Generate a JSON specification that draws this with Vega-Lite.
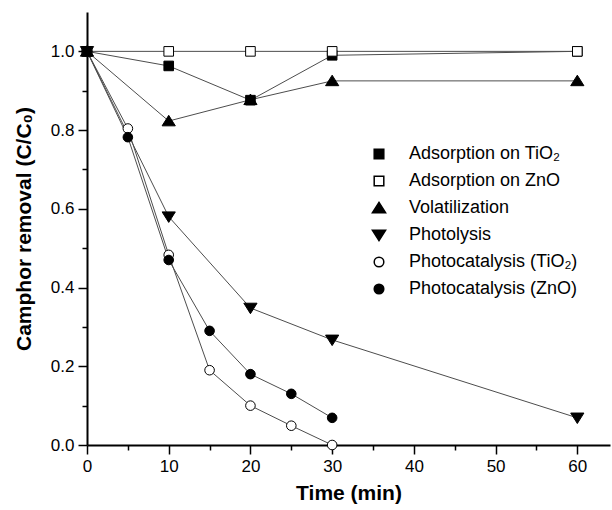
{
  "$schema": "https://vega.github.io/schema/vega-lite/v6.json",
  "width": 523,
  "height": 433,
  "autosize": {"type": "none"},
  "padding": {"left": 87, "top": 12, "right": 2, "bottom": 65},
  "background": "white",
  "config": {"view": {"stroke": null}, "font": "Liberation Sans"},
  "data": {
    "values": [
      {"t": 10, "c": 0.963, "s": "Adsorption on TiO₂"},
      {"t": 20, "c": 0.876, "s": "Adsorption on TiO₂"},
      {"t": 30, "c": 0.99, "s": "Adsorption on TiO₂"},
      {"t": 60, "c": 1.0, "s": "Adsorption on TiO₂"},
      {"t": 10, "c": 1.0, "s": "Adsorption on ZnO"},
      {"t": 20, "c": 1.0, "s": "Adsorption on ZnO"},
      {"t": 30, "c": 1.0, "s": "Adsorption on ZnO"},
      {"t": 60, "c": 1.0, "s": "Adsorption on ZnO"},
      {"t": 10, "c": 0.823, "s": "Volatilization"},
      {"t": 20, "c": 0.877, "s": "Volatilization"},
      {"t": 30, "c": 0.925, "s": "Volatilization"},
      {"t": 60, "c": 0.925, "s": "Volatilization"},
      {"t": 10, "c": 0.58, "s": "Photolysis"},
      {"t": 20, "c": 0.348, "s": "Photolysis"},
      {"t": 30, "c": 0.267, "s": "Photolysis"},
      {"t": 60, "c": 0.069, "s": "Photolysis"},
      {"t": 5, "c": 0.804, "s": "Photocatalysis (TiO₂)"},
      {"t": 10, "c": 0.483, "s": "Photocatalysis (TiO₂)"},
      {"t": 15, "c": 0.19, "s": "Photocatalysis (TiO₂)"},
      {"t": 20, "c": 0.1, "s": "Photocatalysis (TiO₂)"},
      {"t": 25, "c": 0.049, "s": "Photocatalysis (TiO₂)"},
      {"t": 30, "c": 0.0, "s": "Photocatalysis (TiO₂)"},
      {"t": 5, "c": 0.782, "s": "Photocatalysis (ZnO)"},
      {"t": 10, "c": 0.47, "s": "Photocatalysis (ZnO)"},
      {"t": 15, "c": 0.29, "s": "Photocatalysis (ZnO)"},
      {"t": 20, "c": 0.18, "s": "Photocatalysis (ZnO)"},
      {"t": 25, "c": 0.13, "s": "Photocatalysis (ZnO)"},
      {"t": 30, "c": 0.069, "s": "Photocatalysis (ZnO)"},
      {"t": 0, "c": 1.0, "s": "Volatilization"},
      {"t": 0, "c": 1.0, "s": "Photolysis"},
      {"t": 0, "c": 1.0, "s": "Photocatalysis (TiO₂)"},
      {"t": 0, "c": 1.0, "s": "Photocatalysis (ZnO)"},
      {"t": 0, "c": 1.0, "s": "Adsorption on ZnO"},
      {"t": 0, "c": 1.0, "s": "Adsorption on TiO₂"}
    ]
  },
  "layer": [
    {
      "mark": {"type": "line", "color": "#4d4d4d", "strokeWidth": 1},
      "encoding": {
        "x": {
          "field": "t", "type": "quantitative",
          "scale": {"domain": [0, 64], "nice": false, "zero": false},
          "axis": {
            "values": [0, 10, 20, 30, 40, 50, 60],
            "title": "Time (min)", "titleFontSize": 21, "titleFontWeight": "bold",
            "titleColor": "black", "titlePadding": 8,
            "labelFontSize": 17, "labelColor": "black", "labelPadding": 4, "labelFlush": false,
            "tickSize": 9, "tickWidth": 1.5, "tickColor": "black",
            "domainWidth": 2, "domainColor": "black", "grid": false
          }
        },
        "y": {
          "field": "c", "type": "quantitative",
          "scale": {"domain": [0, 1.1], "nice": false, "zero": false},
          "axis": {
            "values": [0, 0.2, 0.4, 0.6, 0.8, 1.0], "format": ".1f",
            "title": "Camphor removal (C/C₀)", "titleFontSize": 21, "titleFontWeight": "bold",
            "titleColor": "black", "titlePadding": 16,
            "labelFontSize": 17, "labelColor": "black", "labelPadding": 4, "labelFlush": false,
            "tickSize": 9, "tickWidth": 1.5, "tickColor": "black",
            "domainWidth": 2, "domainColor": "black", "grid": false
          }
        },
        "detail": {"field": "s"}
      }
    },
    {
      "mark": {"type": "point", "stroke": "black", "strokeWidth": 1, "opacity": 1},
      "encoding": {
        "x": {
          "field": "t", "type": "quantitative",
          "axis": {"values": [5, 15, 25, 35, 45, 55], "orient": "bottom", "labels": false, "title": null, "domain": false,
                   "tickSize": 5, "tickWidth": 1.5, "tickColor": "black", "grid": false}
        },
        "y": {
          "field": "c", "type": "quantitative",
          "axis": {"values": [0.1, 0.3, 0.5, 0.7, 0.9], "orient": "left", "labels": false, "title": null, "domain": false,
                   "tickSize": 5, "tickWidth": 1.5, "tickColor": "black", "grid": false}
        },
        "shape": {
          "field": "s", "type": "nominal",
          "scale": {
            "domain": ["Adsorption on TiO₂", "Adsorption on ZnO", "Volatilization", "Photolysis", "Photocatalysis (TiO₂)", "Photocatalysis (ZnO)"],
            "range": [
              "M-0.8,-0.8H0.8V0.8H-0.8Z",
              "M-0.8,-0.8H0.8V0.8H-0.8Z",
              "M0,-0.95L1.1,0.8H-1.1Z",
              "M0,0.95L1.1,-0.8H-1.1Z",
              "M-0.8,0A0.8,0.8 0 1,0 0.8,0A0.8,0.8 0 1,0 -0.8,0Z",
              "M-0.8,0A0.8,0.8 0 1,0 0.8,0A0.8,0.8 0 1,0 -0.8,0Z"
            ]
          },
          "legend": {
            "title": null, "orient": "none", "legendX": 283, "legendY": 133,
            "symbolSize": 144, "labelFontSize": 18, "labelColor": "black", "labelOffset": 21,
            "labelLimit": 300, "rowPadding": 9, "padding": 0,
            "encode": {"symbols": {
              "shape": {"value": {"expr": "(indexof(datum.value, 'Adsorption') == 0 ? 'M-0.8,-0.8H0.8V0.8H-0.8Z' : datum.value == 'Volatilization' ? 'M0,-0.95L1.1,0.8H-1.1Z' : datum.value == 'Photolysis' ? 'M0,0.95L1.1,-0.8H-1.1Z' : 'M-0.8,0A0.8,0.8 0 1,0 0.8,0A0.8,0.8 0 1,0 -0.8,0Z') + 'M-4,0H-0.7M0.7,0H4'"}},
              "stroke": {"value": "#111111"},
              "strokeWidth": {"value": 1}
            }}
          }
        },
        "fill": {
          "field": "s", "type": "nominal",
          "scale": {
            "domain": ["Adsorption on TiO₂", "Adsorption on ZnO", "Volatilization", "Photolysis", "Photocatalysis (TiO₂)", "Photocatalysis (ZnO)"],
            "range": ["black", "white", "black", "black", "white", "black"]
          },
          "legend": {
            "title": null, "orient": "none", "legendX": 283, "legendY": 133,
            "symbolSize": 144, "labelFontSize": 18, "labelColor": "black", "labelOffset": 21,
            "labelLimit": 300, "rowPadding": 9, "padding": 0,
            "encode": {"symbols": {
              "shape": {"value": {"expr": "(indexof(datum.value, 'Adsorption') == 0 ? 'M-0.8,-0.8H0.8V0.8H-0.8Z' : datum.value == 'Volatilization' ? 'M0,-0.95L1.1,0.8H-1.1Z' : datum.value == 'Photolysis' ? 'M0,0.95L1.1,-0.8H-1.1Z' : 'M-0.8,0A0.8,0.8 0 1,0 0.8,0A0.8,0.8 0 1,0 -0.8,0Z') + 'M-4,0H-0.7M0.7,0H4'"}},
              "stroke": {"value": "#111111"},
              "strokeWidth": {"value": 1}
            }}
          }
        },
        "size": {"value": 144}
      }
    }
  ],
  "resolve": {"axis": {"x": "independent", "y": "independent"}}
}
